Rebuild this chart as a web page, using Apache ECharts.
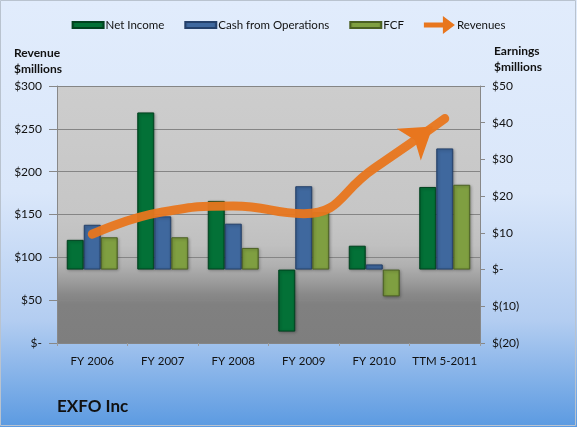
<!DOCTYPE html>
<html><head><meta charset="utf-8">
<script src="https://cdn.jsdelivr.net/npm/echarts@6/dist/echarts.min.js"></script>
<style>html,body{margin:0;padding:0;}#c{width:577px;height:427px;}</style>
</head><body><div id="c"></div>
<script>
const categories = ['FY 2006','FY 2007','FY 2008','FY 2009','FY 2010','TTM 5-2011'];
const netIncome = [8.1, 42.8, 18.7, -16.9, 6.5, 22.5];
const cashFromOps = [12.2, 14.5, 12.5, 22.7, 1.4, 33.0];
const fcf = [8.8, 8.8, 5.9, 15.6, -7.3, 23.1];
const revenues = [127, 153, 160, 151, 204, 262];
const leftTicks = {0:'$-',50:'$50',100:'$100',150:'$150',200:'$200',250:'$250',300:'$300'};
const rightTicks = {'-20':'$(20)','-10':'$(10)','0':'$-','10':'$10','20':'$20','30':'$30','40':'$40','50':'$50'};

const FONT = 'Lato';
function barGrad(c1, c2){
  return {type:'linear',x:0,y:0,x2:1,y2:0,colorStops:[
    {offset:0,color:c2},{offset:0.12,color:c1},{offset:0.88,color:c1},{offset:1,color:c2}]};
}
const rectIcon = 'path://M0,0 L0,0 M0,6 L31,6 L31,12 L0,12 Z M31,18 L31,18';
const arrowIcon = 'path://M0,6.5 L19,6.5 L19,0 L31,9 L19,18 L19,11.5 L0,11.5 Z';
const chart = echarts.init(document.getElementById('c'), null, {renderer:'canvas'});
const revData = revenues.map((v,i)=> i===revenues.length-1 ?
  {value:v, symbol:'arrow', symbolSize:[30,30], symbolRotate:-53, symbolOffset:[-12,8]} : v);
chart.setOption({
  animation:false,
  backgroundColor:{type:'linear',x:0,y:0,x2:0,y2:1,colorStops:[
    {offset:0,color:'#E1ECFC'},{offset:0.45,color:'#DAE7FA'},{offset:0.75,color:'#B3CDF1'},{offset:1,color:'#5B9AE1'}]},
  textStyle:{fontFamily:FONT},
  graphic:[
    {type:'rect',shape:{x:0.5,y:0.5,width:575,height:425},style:{fill:null,stroke:'#B9C3CF',lineWidth:1}},
    {type:'rect',z:-1,shape:{x:57,y:86,width:423,height:257},style:{fill:{type:'linear',x:0,y:0,x2:0,y2:1,colorStops:[
      {offset:0,color:'#CDCDCD'},{offset:0.5,color:'#C6C6C6'},{offset:0.62,color:'#C0C0C0'},{offset:0.7,color:'#B0B0B0'},{offset:0.76,color:'#9C9C9C'},{offset:0.81,color:'#898989'},{offset:0.85,color:'#808080'},{offset:1,color:'#7E7E7E'}]}}},
    {type:'text',left:14,top:45,style:{text:'Revenue\n$millions',font:'bold 12px '+FONT,fill:'#111',lineHeight:16}},
    {type:'text',left:494,top:43,style:{text:'Earnings\n$millions',font:'bold 12px '+FONT,fill:'#111',lineHeight:16}},
    {type:'text',left:57,top:398,style:{text:'EXFO Inc',font:'bold 17px '+FONT,fill:'#111'}}
  ],
  legend:{
    top:10, left:'center', itemGap:20, itemWidth:31, itemHeight:18,
    textStyle:{fontFamily:FONT,fontSize:11.5,color:'#111',padding:[0,0,0,-3]},
    data:[
      {name:'Net Income',icon:rectIcon},
      {name:'Cash from Operations',icon:rectIcon},
      {name:'FCF',icon:rectIcon},
      {name:'Revenues',icon:arrowIcon,itemStyle:{color:'#E8761E'}}
    ]
  },
  grid:{left:57,right:97,top:86,bottom:84,containLabel:false},
  xAxis:{
    type:'category', data:categories,
    axisLine:{show:false},
    axisTick:{show:true,length:3,lineStyle:{color:'#9a9a9a'}},
    axisLabel:{color:'#111',fontSize:11.5,margin:12,fontFamily:FONT,interval:0},
    splitLine:{show:false}
  },
  yAxis:[
    {type:'value',min:0,max:300,interval:50,position:'left',
     axisLine:{show:true,lineStyle:{color:'#888'}},
     axisTick:{show:true,length:8,lineStyle:{color:'#888'}},
     axisLabel:{color:'#111',fontSize:12,margin:15,fontFamily:FONT,formatter:v=>leftTicks[v]},
     splitLine:{show:true,lineStyle:{color:'#858585',width:1}}},
    {type:'value',min:-20,max:50,interval:10,position:'right',
     axisLine:{show:true,lineStyle:{color:'#888'}},
     axisTick:{show:true,length:5,lineStyle:{color:'#888'}},
     axisLabel:{color:'#111',fontSize:12,margin:12,fontFamily:FONT,formatter:v=>rightTicks[String(v)]},
     splitLine:{show:false}}
  ],
  series:[
    {name:'Net Income',type:'bar',yAxisIndex:1,data:netIncome,barWidth:17,barGap:'0%',
     itemStyle:{color:barGrad('#037137','#025a2b'),borderColor:'#01421f',borderWidth:1,shadowColor:'rgba(0,0,0,0.3)',shadowBlur:3,shadowOffsetX:1,shadowOffsetY:1}},
    {name:'Cash from Operations',type:'bar',yAxisIndex:1,data:cashFromOps,barWidth:17,barGap:'0%',
     itemStyle:{color:barGrad('#3F689E','#2f5283'),borderColor:'#24406a',borderWidth:1,shadowColor:'rgba(0,0,0,0.3)',shadowBlur:3,shadowOffsetX:1,shadowOffsetY:1}},
    {name:'FCF',type:'bar',yAxisIndex:1,data:fcf,barWidth:17,barGap:'0%',
     itemStyle:{color:barGrad('#7F9F41','#657f31'),borderColor:'#4b6023',borderWidth:1,shadowColor:'rgba(0,0,0,0.3)',shadowBlur:3,shadowOffsetX:1,shadowOffsetY:1}},
    {name:'Revenues',type:'line',yAxisIndex:0,data:revData,smooth:0.5,symbol:'none',
     lineStyle:{color:'#E8761E',width:9,opacity:0.95,cap:'round'},
     itemStyle:{color:'#E8761E'},z:5}
  ]
});
</script></body></html>
